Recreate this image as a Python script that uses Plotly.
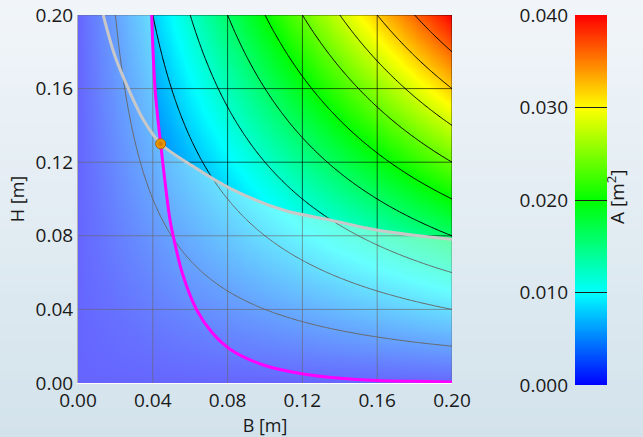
import numpy as np
import plotly.graph_objects as go

# ---- data ----
B_axis = np.linspace(0.0, 0.2, 201)          # B [m]
H_axis = np.linspace(0.0, 0.2, 201)          # H [m]
A_levels = dict(start=0.004, end=0.036, size=0.004)
tick_vals = [0.0, 0.04, 0.08, 0.12, 0.16, 0.20]
tick_text = ["0.00", "0.04", "0.08", "0.12", "0.16", "0.20"]
cb_vals = [0.0, 0.01, 0.02, 0.03, 0.04]
cb_text = ["0.000", "0.010", "0.020", "0.030", "0.040"]

# constraint 1 (grey curve)
grey_B = [0.0135, 0.0200, 0.0269, 0.0350, 0.0442, 0.0599, 0.0813, 0.1098, 0.1348, 0.1597, 0.2000]
grey_H = [0.2000, 0.1770, 0.1600, 0.1430, 0.1300, 0.1188, 0.1058, 0.0940, 0.0886, 0.0832, 0.0781]
# constraint 2 (magenta curve)
mag_B = [0.0394, 0.0412, 0.0442, 0.0492, 0.0510, 0.0560, 0.0635, 0.0720, 0.0813, 0.0991, 0.1205, 0.1400, 0.1597, 0.1800, 0.2000]
mag_H = [0.2000, 0.1600, 0.1300, 0.0886, 0.0795, 0.0590, 0.0397, 0.0270, 0.0184, 0.0098, 0.0049, 0.0026, 0.0014, 0.0009, 0.0006]
opt_B = [0.0442]
opt_H = [0.1300]

Bg, Hg = np.meshgrid(B_axis, H_axis)
A = Bg * Hg

rainbow = [[0.0, "rgb(0,0,255)"], [0.25, "rgb(0,255,255)"], [0.5, "rgb(0,255,0)"],
           [0.75, "rgb(255,255,0)"], [1.0, "rgb(255,0,0)"]]

fig = go.Figure()

fig.add_trace(go.Heatmap(x=B_axis, y=H_axis, z=A, zmin=0, zmax=0.04, colorscale=rainbow,
                         zsmooth="best", showscale=False, hoverinfo="skip"))
fig.add_trace(go.Contour(x=B_axis, y=H_axis, z=A, autocontour=False, contours=dict(coloring="none", **A_levels),
                         line=dict(color="black", width=1), showscale=False, hoverinfo="skip"))

# grid lines drawn above the heatmap
gx, gy = [], []
for v in tick_vals[1:]:
    gx += [v, v, None]; gy += [0, 0.2, None]
    gx += [0, 0.2, None]; gy += [v, v, None]
fig.add_trace(go.Scatter(x=gx, y=gy, mode="lines", line=dict(color="rgba(0,0,0,0.62)", width=1),
                         hoverinfo="skip", showlegend=False))

# infeasible-region wash
i_top = mag_B.index(opt_B[0])
j0 = grey_B.index(opt_B[0])
px = [0, 0] + mag_B[:i_top + 1] + grey_B[j0 + 1:] + [0.2, 0]
py = [0, 0.2] + mag_H[:i_top + 1] + grey_H[j0 + 1:] + [0, 0]
fig.add_trace(go.Scatter(x=px, y=py, mode="lines", fill="toself", fillcolor="rgba(255,255,255,0.4)",
                         line=dict(width=0), hoverinfo="skip", showlegend=False))

fig.add_trace(go.Scatter(x=grey_B, y=grey_H, mode="lines", line=dict(color="rgb(200,200,200)", width=3, shape="spline"),
                         showlegend=False))
fig.add_trace(go.Scatter(x=mag_B, y=mag_H, mode="lines", line=dict(color="rgb(255,0,255)", width=3, shape="spline"),
                         showlegend=False))
fig.add_trace(go.Scatter(x=opt_B, y=opt_H, mode="markers",
                         marker=dict(size=10, color="rgb(245,170,0)", line=dict(color="rgb(170,90,0)", width=1),
                                     gradient=dict(type="radial", color="rgb(205,110,0)")),
                         showlegend=False))

# colour bar as its own axis
cb_y = np.linspace(0, 0.04, 201)
fig.add_trace(go.Heatmap(x=[0, 1], y=cb_y, z=np.column_stack([cb_y, cb_y]), zmin=0, zmax=0.04,
                         colorscale=rainbow, zsmooth="best", showscale=False, xaxis="x2", yaxis="y2",
                         hoverinfo="skip"))

# background gradient
shapes = []
top_c = np.array([242, 246, 250]); bot_c = np.array([211, 227, 236])
nb = 46
for k in range(nb):
    p0 = k * 437 / nb; p1 = (k + 1) * 437 / nb + 0.5
    t = (k + 0.5) / nb
    c = top_c + (bot_c - top_c) * t
    shapes.append(dict(type="rect", xref="paper", yref="paper", x0=-1, x1=2,
                       y0=(385 - p1) / 370, y1=(385 - p0) / 370, layer="below",
                       line=dict(width=0), fillcolor="rgb(%d,%d,%d)" % tuple(c)))

font = dict(family="Open Sans", size=19, color="#1a1a1a")
tfont = dict(family="Open Sans", size=18, color="#1a1a1a")
fig.update_layout(
    width=643, height=437, margin=dict(l=78, r=36, t=15, b=52, autoexpand=False),
    paper_bgcolor="rgb(225,235,242)", plot_bgcolor="rgba(0,0,0,0)",
    font=font, showlegend=False, shapes=shapes,
    xaxis=dict(domain=[0, 374 / 529], range=[0, 0.2], tickvals=tick_vals, ticktext=tick_text, automargin=False,
               showgrid=False, zeroline=False, showline=True, linecolor="white", linewidth=1,
               ticks="", title=dict(text="B [m]", standoff=0, font=tfont), anchor="y"),
    yaxis=dict(domain=[2 / 370, 1], range=[0, 0.2], tickvals=tick_vals, ticktext=tick_text, automargin=False,
               showgrid=False, zeroline=False, showline=True, linecolor="rgb(175,175,175)", linewidth=1,
               ticks="", title=dict(text="H [m]", standoff=6, font=tfont), anchor="x"),
    xaxis2=dict(domain=[497 / 529, 1], range=[0, 1], visible=False, anchor="y2", automargin=False),
    yaxis2=dict(domain=[0, 1], range=[0, 0.04], anchor="x2", side="left", tickvals=cb_vals, ticktext=cb_text,
                ticks="inside", ticklen=32, tickwidth=1, tickcolor="rgb(30,30,30)", layer="above traces",
                automargin=False, showgrid=False, zeroline=False, showline=False, ticklabelstandoff=6),
    annotations=[dict(text="A [m<sup>2</sup>]", textangle=-90, xref="paper", yref="paper",
                      x=(632 - 78) / 529, y=(385 - 197) / 370, showarrow=False, font=font)],
)

fig.write_html("out.html", config={"displayModeBar": False},
               post_script="document.body.style.margin='0px';document.body.style.overflow='hidden';")
